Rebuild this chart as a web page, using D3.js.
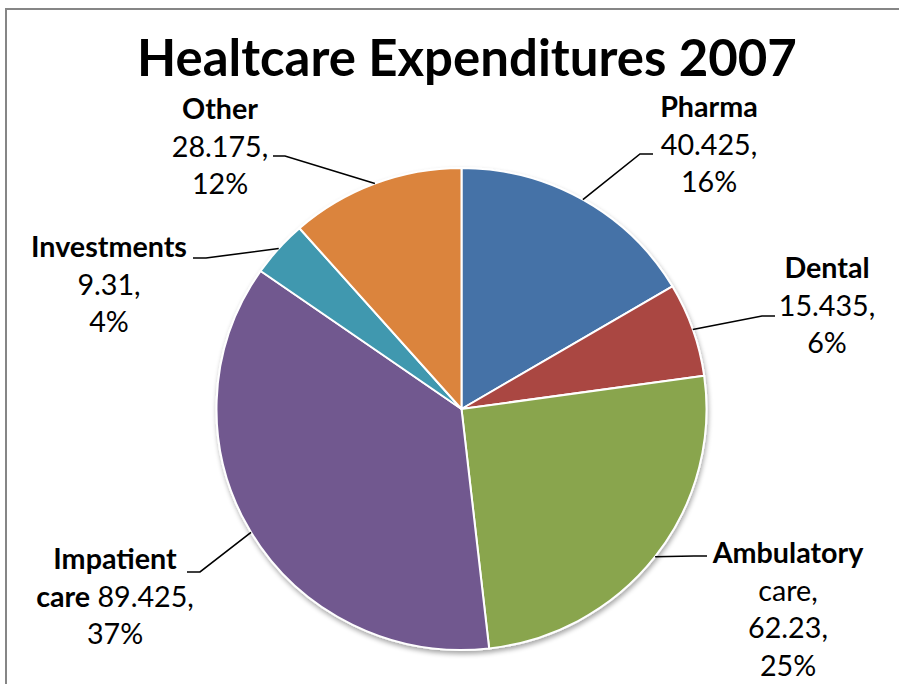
<!DOCTYPE html>
<html>
<head>
<meta charset="utf-8">
<script src="https://cdn.jsdelivr.net/npm/d3@7"></script>
<style>
  body { margin: 0; background: #fff; }
  svg text { font-family: Lato, "Open Sans", sans-serif; fill: #000; }
</style>
</head>
<body>
<div id="chart"></div>
<script>
// data
var categories = ["Pharma", "Dental", "Ambulatory care", "Impatient care", "Investments", "Other"];
var values = [40.425, 15.435, 62.23, 89.425, 9.31, 28.175];
var percents = ["16%", "6%", "25%", "37%", "4%", "12%"];
var colors = ["#4572A7", "#AA4643", "#89A54E", "#71588F", "#4198AF", "#DB843D"];

// how each label is broken into lines (bold parts first)
var labelLines = [
    [[["Pharma", true]], [["40.425,", false]], [["16%", false]]],
    [[["Dental", true]], [["15.435,", false]], [["6%", false]]],
    [[["Ambulatory", true]], [["care,", false]], [["62.23,", false]], [["25%", false]]],
    [[["Impatient", true]], [["care", true], [" 89.425,", false]], [["37%", false]]],
    [[["Investments", true]], [["9.31,", false]], [["4%", false]]],
    [[["Other", true]], [["28.175,", false]], [["12%", false]]]
];

// label placement: text centre x, first baseline y, leader attach point, elbow x
var labelLayout = [
    {x: 709, y: 117, ax: 653, ay: 154, ex: 640},
    {x: 827, y: 278, ax: 775, ay: 316, ex: 762},
    {x: 788, y: 563, ax: 707, ay: 556, ex: 694},
    {x: 115, y: 569, ax: 187, ay: 572, ex: 200},
    {x: 109, y: 257, ax: 193, ay: 258, ex: 206},
    {x: 220, y: 119, ax: 273, ay: 156, ex: 285}
];

const width = 899, height = 684;
const cx = 461.5, cy = 409, rx = 245, ry = 241;
const lineH = 37.5;

const svg = d3.select("#chart").append("svg")
    .attr("width", width)
    .attr("height", height);

// shadow under the pie
var defs = svg.append("defs");
var f = defs.append("filter").attr("id", "shadow")
    .attr("x", "-10%").attr("y", "-10%").attr("width", "120%").attr("height", "120%");
f.append("feGaussianBlur").attr("in", "SourceAlpha").attr("stdDeviation", 2.5).attr("result", "b");
f.append("feOffset").attr("in", "b").attr("dx", 1).attr("dy", 3).attr("result", "o");
f.append("feComponentTransfer").attr("in", "o").attr("result", "s")
    .append("feFuncA").attr("type", "linear").attr("slope", 0.35);
var m = f.append("feMerge");
m.append("feMergeNode").attr("in", "s");
m.append("feMergeNode").attr("in", "SourceGraphic");

// chart area border (only left and top visible)
svg.append("rect")
    .attr("x", 6).attr("y", 9)
    .attr("width", 1000).attr("height", 1000)
    .attr("fill", "none")
    .attr("stroke", "#868686")
    .attr("stroke-width", 2);

// title, fitted to the reference width
var title = svg.append("text")
    .attr("x", 467).attr("y", 76)
    .attr("text-anchor", "middle")
    .style("font-weight", "bold")
    .style("font-size", "44px")
    .text("Healtcare Expenditures 2007");
var tw = title.node().getComputedTextLength();
title.style("font-size", (44 * 660 / tw) + "px");

// label font size fitted from "Investments"
var probe = svg.append("text").style("font-weight", "bold").style("font-size", "28px").text("Investments");
var labelSize = 28 * 156 / probe.node().getComputedTextLength();
probe.remove();

var pie = d3.pie().sort(null).value(function(d){ return d; });
var arcs = pie(values);
var arc = d3.arc().innerRadius(0).outerRadius(rx);

var g = svg.append("g")
    .attr("transform", "translate(" + cx + "," + cy + ") scale(1," + (ry / rx) + ")");

g.append("g").attr("filter", "url(#shadow)")
    .selectAll("path")
    .data(arcs)
    .enter()
    .append("path")
    .attr("d", arc)
    .attr("fill", function(d, i){ return colors[i]; })
    .attr("stroke", "#fff")
    .attr("stroke-width", 2)
    .attr("stroke-linejoin", "round")
    .attr("vector-effect", "non-scaling-stroke");

// leader lines
svg.selectAll("polyline.leader")
    .data(arcs)
    .enter()
    .append("polyline")
    .attr("class", "leader")
    .attr("fill", "none")
    .attr("stroke", "#000")
    .attr("stroke-width", 1.6)
    .attr("points", function(d, i){
        var a = (d.startAngle + d.endAngle) / 2;
        var px = cx + Math.sin(a) * rx;
        var py = cy - Math.cos(a) * ry;
        var L = labelLayout[i];
        return [[L.ax, L.ay], [L.ex, L.ay], [px, py]].join(" ");
    });

// labels
labelLines.forEach(function(lines, i){
    var L = labelLayout[i];
    var t = svg.append("text")
        .attr("text-anchor", "middle")
        .style("font-size", labelSize + "px");
    lines.forEach(function(parts, j){
        parts.forEach(function(p, k){
            var ts = t.append("tspan")
                .style("font-weight", p[1] ? "bold" : "normal")
                .attr("xml:space", "preserve")
                .text(p[0]);
            if (k == 0) ts.attr("x", L.x).attr("y", L.y + j * lineH);
        });
    });
});
</script>
</body>
</html>
